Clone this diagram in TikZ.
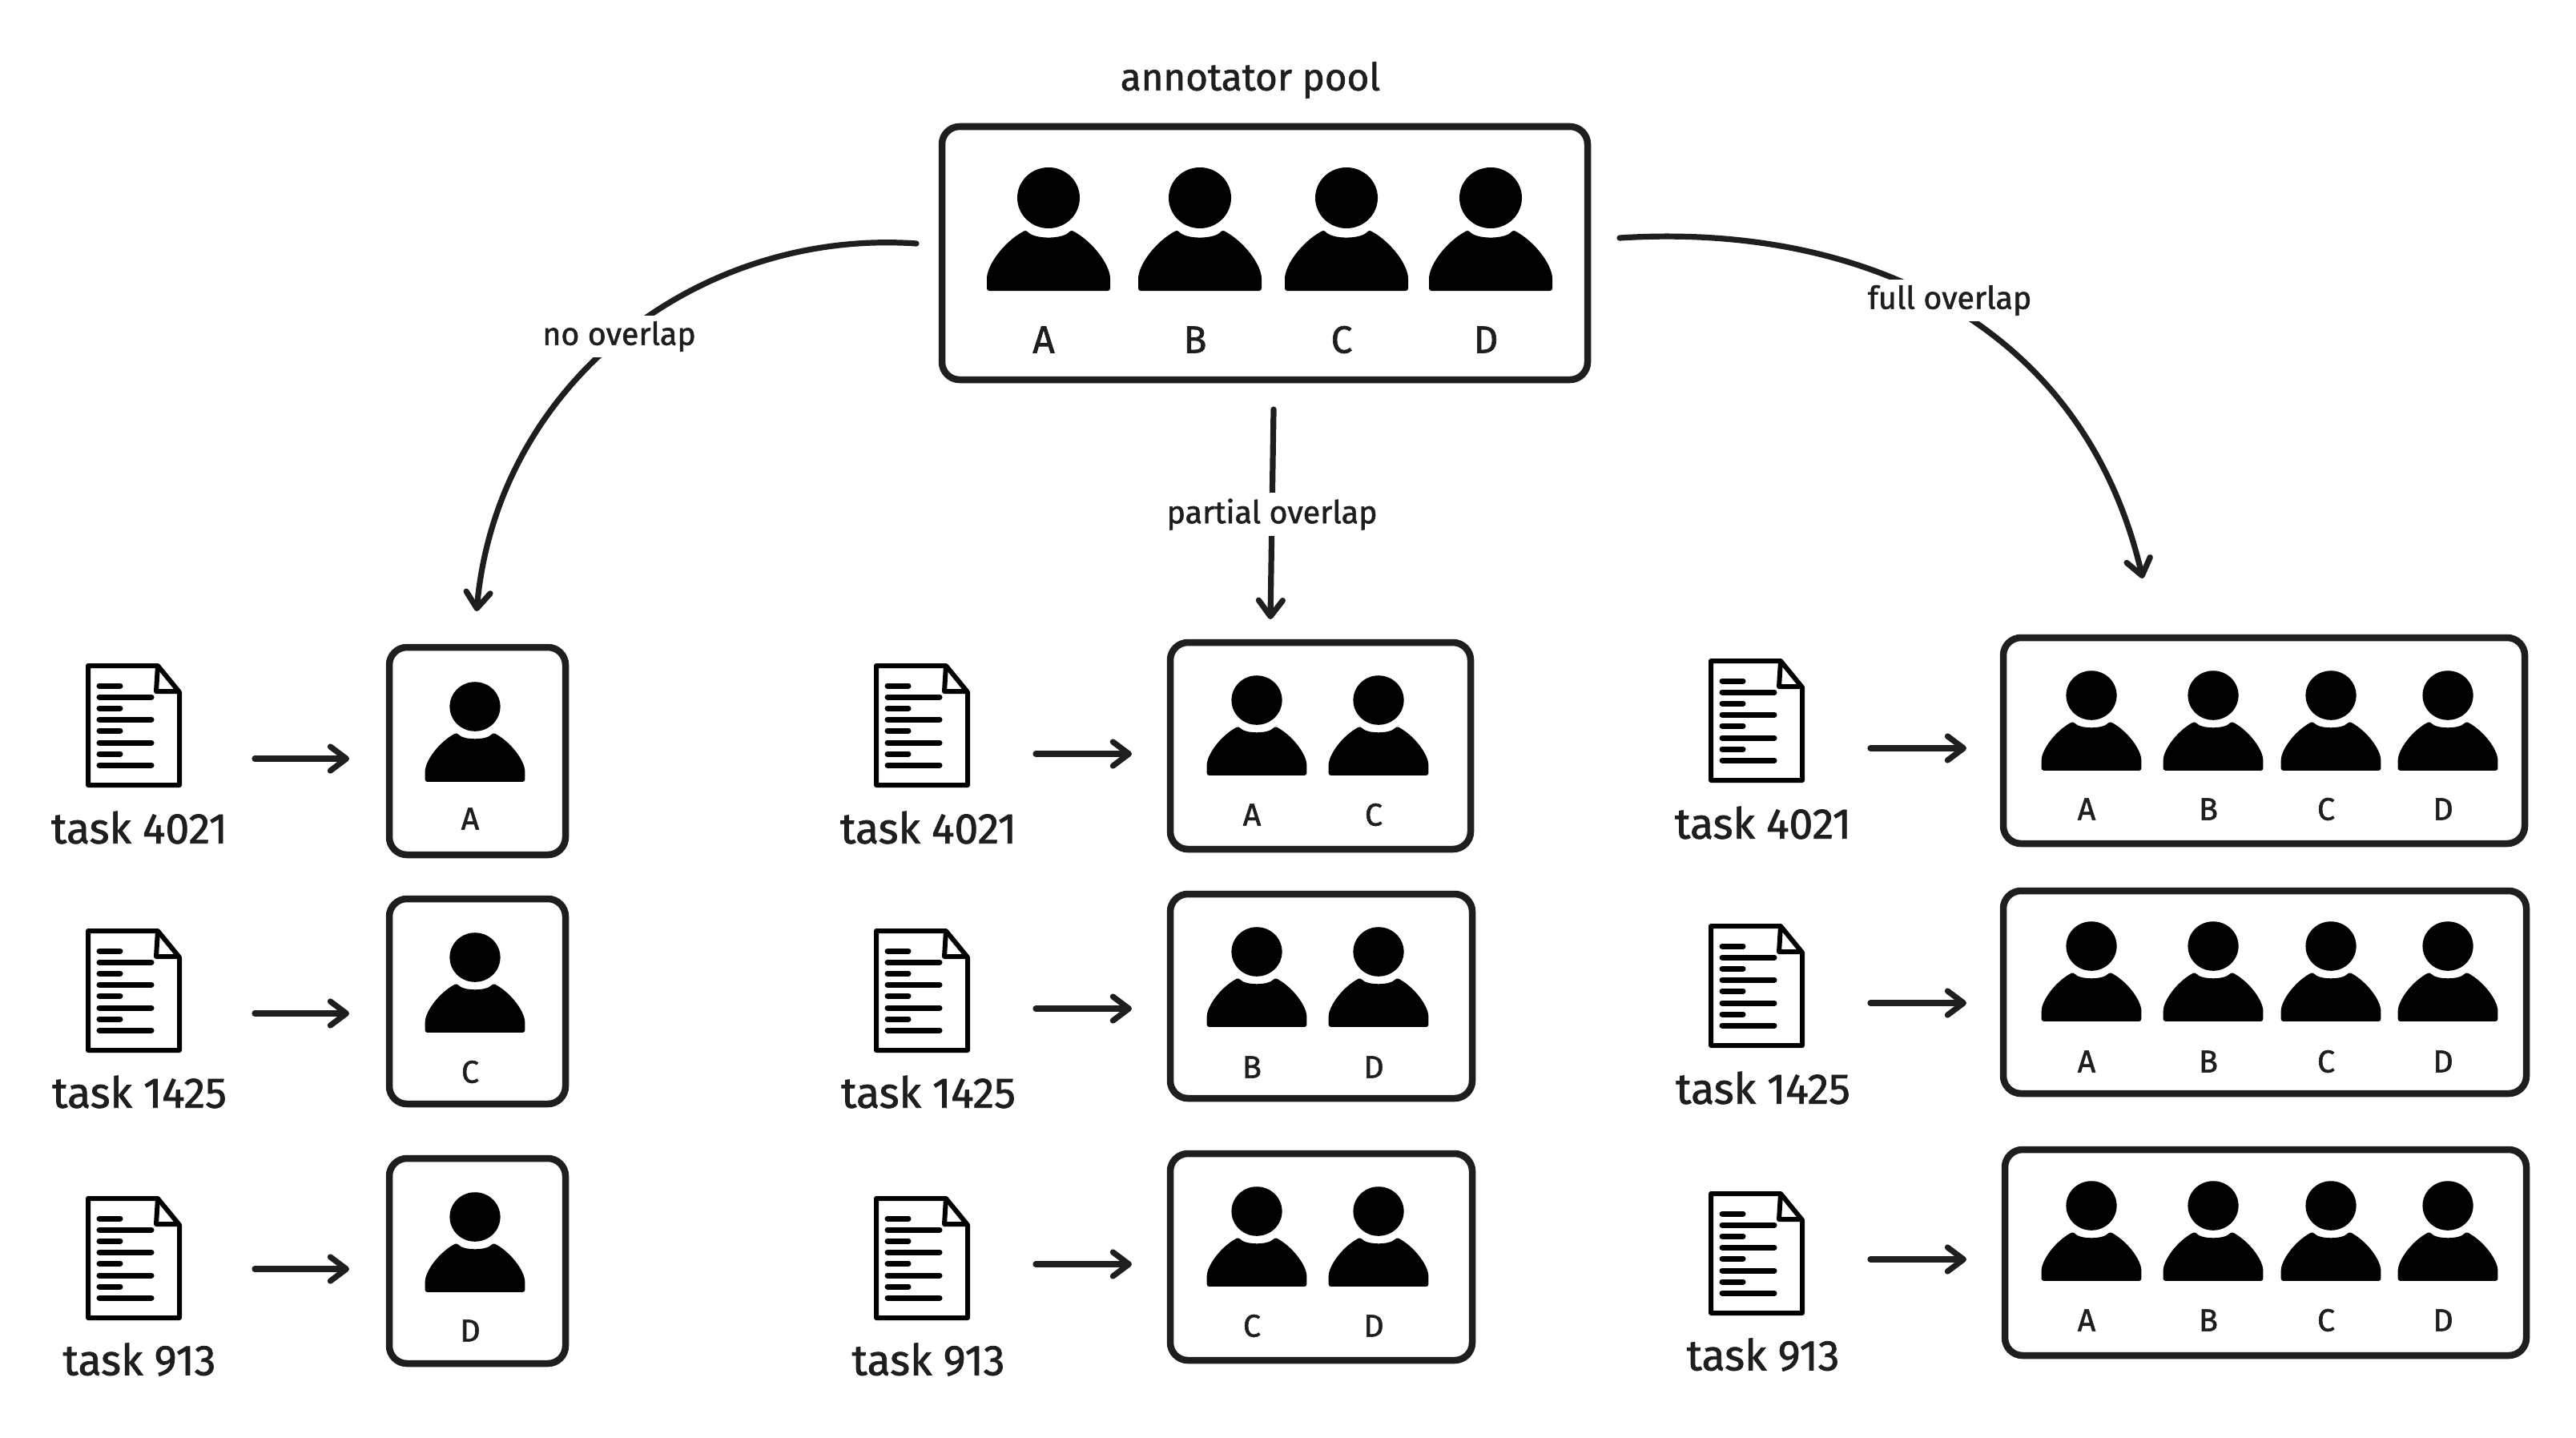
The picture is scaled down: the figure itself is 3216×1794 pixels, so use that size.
\documentclass[tikz,border=0pt]{standalone}
\usepackage{fontspec}
\setmainfont{Fira Sans}
\newfontfamily\labelfont{Fira Sans}[FakeBold=1.4]
\usetikzlibrary{arrows.meta,fit}
\definecolor{ink}{HTML}{1E1E1E}
\tikzset{
  x=0.01cm,y=-0.01cm,
  every node/.style={text=ink,inner sep=0pt},
  boxnode/.style={draw=ink,line width=0.085cm,rounded corners=0.22cm,inner sep=0pt,fill=white},
  conn/.style={draw=ink,line width=0.072cm,line cap=round,-{Straight Barb[length=0.2cm,width=0.3cm,round]}},
  toplabel/.style={font=\labelfont\fontsize{13.5pt}{16pt}\selectfont},
  biglabel/.style={font=\labelfont\fontsize{13.6pt}{15pt}\selectfont},
  smalllabel/.style={font=\labelfont\fontsize{11.2pt}{13pt}\selectfont},
  tasklabel/.style={font=\labelfont\fontsize{15.2pt}{17pt}\selectfont},
  edgelabel/.style={font=\labelfont\fontsize{11.2pt}{13pt}\selectfont,fill=white,inner sep=0.07cm},
  person/.pic={
    \fill[black] (0,0) ellipse [x radius=39,y radius=38];
    \fill[black,rounded corners=0.03cm] (-77,116) -- (-77,104)
      .. controls (-77,84) and (-56,55) .. (-28,40)
      .. controls (-18,52) and (18,52) .. (28,40)
      .. controls (56,55) and (77,84) .. (77,104) -- (77,116) -- cycle;
  },
  docicon/.pic={
    \draw[black,line width=0.06cm,line join=round] (3,3) -- (90,3) -- (117,36) -- (117,152) -- (3,152) -- cycle;
    \draw[black,line width=0.06cm,line join=round] (90,3) -- (88,35) -- (117,35);
    \foreach \yy in {28,56,84,113} \draw[black,line width=0.07cm,line cap=round] (17,\yy) -- (43,\yy);
    \foreach \yy in {42,70,99,127} \draw[black,line width=0.07cm,line cap=round] (17,\yy) -- (82,\yy);
  },
}
\newcommand{\taskrow}[6]{% name, doc x, doc y, label text, label x, label y
  \pic at (#2,#3) {docicon};
  \node[tasklabel,anchor=center] (#1) at (#5,#6) {#4};
}
\newcommand{\rowarrow}[4]{% name, x1, x2, y
  \coordinate (#1s) at (#2,#4);
  \coordinate (#1e) at (#3,#4);
  \draw[conn] (#1s) -- (#1e);
}
\begin{document}
\begin{tikzpicture}
\useasboundingbox (0,0) rectangle (3216,1794);
\fill[white] (0,0) rectangle (3216,1794);

% pool
\node[toplabel] (title) at (1561,100) {annotator pool};
\node[boxnode,fit={(1176,158)(1982,474)}] (pool) {};
\foreach \px in {1309,1498,1681,1861} \pic at (\px,247) {person};
\node[biglabel] (la) at (1303,424) {A};
\node[biglabel] (lb) at (1492,424) {B};
\node[biglabel] (lc) at (1675,424) {C};
\node[biglabel] (ld) at (1855,424) {D};

% connectors from the pool
\coordinate (noS) at (1144,304);
\coordinate (noE) at (595,763);
\coordinate (paS) at (1590,511);
\coordinate (paE) at (1586,773);
\coordinate (fuS) at (2022,297);
\coordinate (fuE) at (2675,722);
\draw[conn] (noS) .. controls (870,285) and (620,480) .. (noE);
\draw[conn] (paS) -- (paE);
\draw[conn] (fuS) .. controls (2320,278) and (2600,400) .. (fuE);
\node[edgelabel] (nolab) at (773,420) {no overlap};
\node[edgelabel] (palab) at (1588,642) {partial overlap};
\node[edgelabel] (fulab) at (2434,375) {full overlap};

% column 1
\taskrow{t11}{107}{828}{task 4021}{174}{1033}
\taskrow{t12}{107}{1159}{task 1425}{174}{1363}
\taskrow{t13}{107}{1493}{task 913}{174}{1697}
\rowarrow{a11}{318}{436}{947}
\rowarrow{a12}{318}{436}{1265}
\rowarrow{a13}{318}{436}{1584}
\node[boxnode,fit={(486,808)(706,1067)}] (b11) {};
\node[boxnode,fit={(486,1122)(706,1378)}] (b12) {};
\node[boxnode,fit={(486,1446)(706,1702)}] (b13) {};
\foreach \hy in {882,1195,1519} \pic[scale=0.81] at (593,\hy) {person};
\node[smalllabel] at (587,1022) (c11) {A};
\node[smalllabel] at (587,1338) (c12) {C};
\node[smalllabel] at (587,1661) (c13) {D};

% column 2
\taskrow{t21}{1091}{828}{task 4021}{1159}{1033}
\taskrow{t22}{1091}{1159}{task 1425}{1159}{1363}
\taskrow{t23}{1091}{1493}{task 913}{1159}{1697}
\rowarrow{a21}{1293}{1413}{941}
\rowarrow{a22}{1293}{1413}{1259}
\rowarrow{a23}{1293}{1413}{1578}
\node[boxnode,fit={(1461,802)(1836,1060)}] (b21) {};
\node[boxnode,fit={(1461,1116)(1838,1371)}] (b22) {};
\node[boxnode,fit={(1461,1440)(1838,1698)}] (b23) {};
\foreach \hy in {874,1188,1512} {
  \pic[scale=0.81] at (1569,\hy) {person};
  \pic[scale=0.81] at (1721,\hy) {person};
}
\node[smalllabel] (c21a) at (1563,1017) {A};
\node[smalllabel] (c21b) at (1715,1017) {C};
\node[smalllabel] (c22a) at (1563,1332) {B};
\node[smalllabel] (c22b) at (1715,1332) {D};
\node[smalllabel] (c23a) at (1563,1655) {C};
\node[smalllabel] (c23b) at (1715,1655) {D};

% column 3
\taskrow{t31}{2133}{822}{task 4021}{2201}{1027}
\taskrow{t32}{2133}{1153}{task 1425}{2201}{1358}
\taskrow{t33}{2133}{1487}{task 913}{2201}{1691}
\rowarrow{a31}{2335}{2455}{934}
\rowarrow{a32}{2335}{2455}{1252}
\rowarrow{a33}{2335}{2455}{1572}
\node[boxnode,fit={(2501,796)(3152,1053)}] (b31) {};
\node[boxnode,fit={(2501,1112)(3154,1365)}] (b32) {};
\node[boxnode,fit={(2503,1435)(3154,1692)}] (b33) {};
\foreach \hy in {868,1181,1505} \foreach \px in {2611,2763,2910,3056} \pic[scale=0.81] at (\px,\hy) {person};
\foreach \ly/\rr in {1010/a,1325/b,1648/c} {
  \node[smalllabel] (c3\rr a) at (2605,\ly) {A};
  \node[smalllabel] (c3\rr b) at (2757,\ly) {B};
  \node[smalllabel] (c3\rr c) at (2904,\ly) {C};
  \node[smalllabel] (c3\rr d) at (3050,\ly) {D};
}
\end{tikzpicture}
\end{document}
